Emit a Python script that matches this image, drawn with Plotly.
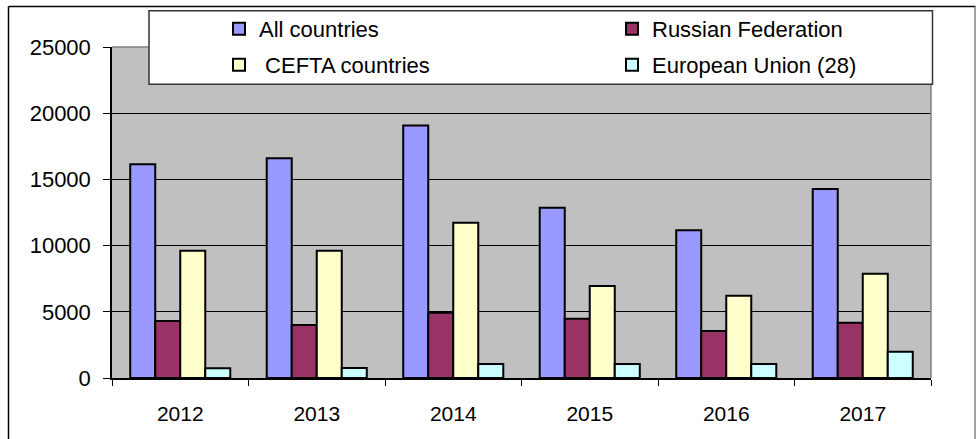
import plotly.graph_objects as go

years = ["2012", "2013", "2014", "2015", "2016", "2017"]
all_countries = [16150, 16600, 19080, 12860, 11150, 14280]
russian_federation = [4300, 4000, 4930, 4480, 3550, 4180]
cefta_countries = [9620, 9620, 11730, 6950, 6220, 7880]
european_union = [730, 760, 1060, 1060, 1060, 1990]

W, H = 976, 439
L, R, T, B = 112, 931, 47, 378  # plot area in pixels
pw, ph = R - L, B - T


def px(x):
    return (x - L) / pw


def py(y):
    return (B - y) / ph


FONT = "Liberation Sans, Arial, sans-serif"

# (name, values, colour, legend id, legend item left px, legend row centre px)
series = [
    ("All countries", all_countries, "#9999FF", "legend", 219, 29),
    ("Russian Federation", russian_federation, "#993366", "legend2", 612, 29),
    ("\u00a0CEFTA countries", cefta_countries, "#FFFFCC", "legend3", 219, 65),
    ("European Union (28)", european_union, "#CCFFFF", "legend4", 612, 65),
]

fig = go.Figure()
for name, vals, col, lg, _, _ in series:
    fig.add_trace(go.Bar(
        x=years, y=vals, name=name,
        marker=dict(color=col, line=dict(color="#000000", width=2)),
        legend=lg,
    ))

shapes = [
    # outer chart border
    dict(type="line", xref="paper", yref="paper", x0=px(8.5), x1=px(975.5), y0=py(6.5), y1=py(6.5),
         line=dict(color="#000000", width=1.5), layer="above"),
    dict(type="line", xref="paper", yref="paper", x0=px(8.5), x1=px(8.5), y0=py(6.5), y1=py(460),
         line=dict(color="#000000", width=1.5), layer="above"),
    dict(type="line", xref="paper", yref="paper", x0=px(975), x1=px(975), y0=py(6.5), y1=py(460),
         line=dict(color="#808080", width=1.5), layer="above"),
    # plot area top/right border
    dict(type="line", xref="paper", yref="paper", x0=0, x1=1, y0=1, y1=1,
         line=dict(color="#808080", width=1.5), layer="above"),
    dict(type="line", xref="paper", yref="paper", x0=1, x1=1, y0=0, y1=1,
         line=dict(color="#808080", width=1.5), layer="above"),
    # legend box
    dict(type="rect", xref="paper", yref="paper", x0=px(149), x1=px(932.5), y0=py(84.3), y1=py(10.7),
         fillcolor="#FFFFFF", line=dict(color="#333333", width=1.5), layer="above"),
]

legends = {}
for name, vals, col, lg, lx, ly in series:
    legends[lg] = dict(
        orientation="h", xanchor="left", yanchor="middle",
        x=px(lx), y=py(ly),
        font=dict(family=FONT, size=22, color="#000000"),
        bgcolor="rgba(0,0,0,0)", borderwidth=0,
        itemclick=False, itemdoubleclick=False,
    )

fig.update_layout(
    width=W, height=H,
    margin=dict(l=L, r=W - R, t=T, b=H - B, pad=0, autoexpand=False),
    paper_bgcolor="#FFFFFF",
    plot_bgcolor="#C0C0C0",
    barmode="group", bargap=0.267, bargroupgap=0,
    font=dict(family=FONT, size=21, color="#000000"),
    shapes=shapes,
    showlegend=True,
    xaxis=dict(
        type="category", showgrid=False, showline=True, linecolor="#000000", linewidth=1.5,
        ticks="outside", tickson="boundaries", ticklen=6, tickcolor="#000000", tickwidth=1,
        ticklabelstandoff=16, tickfont=dict(family=FONT, size=21, color="#000000"),
        fixedrange=True, automargin=False,
    ),
    yaxis=dict(
        range=[0, 25000], dtick=5000, tick0=0, tickformat="d", showgrid=True,
        gridcolor="#000000", gridwidth=1,
        zeroline=False, showline=True, linecolor="#000000", linewidth=1.5,
        ticks="outside", ticklen=7, tickcolor="#000000", tickwidth=1,
        ticklabelstandoff=8, tickfont=dict(family=FONT, size=22, color="#000000"),
        fixedrange=True, automargin=False,
    ),
    **legends,
)

fig.write_html(
    "out.html",
    config={"displayModeBar": False},
    post_script="document.body.style.margin='0';document.body.style.overflow='hidden';",
)
